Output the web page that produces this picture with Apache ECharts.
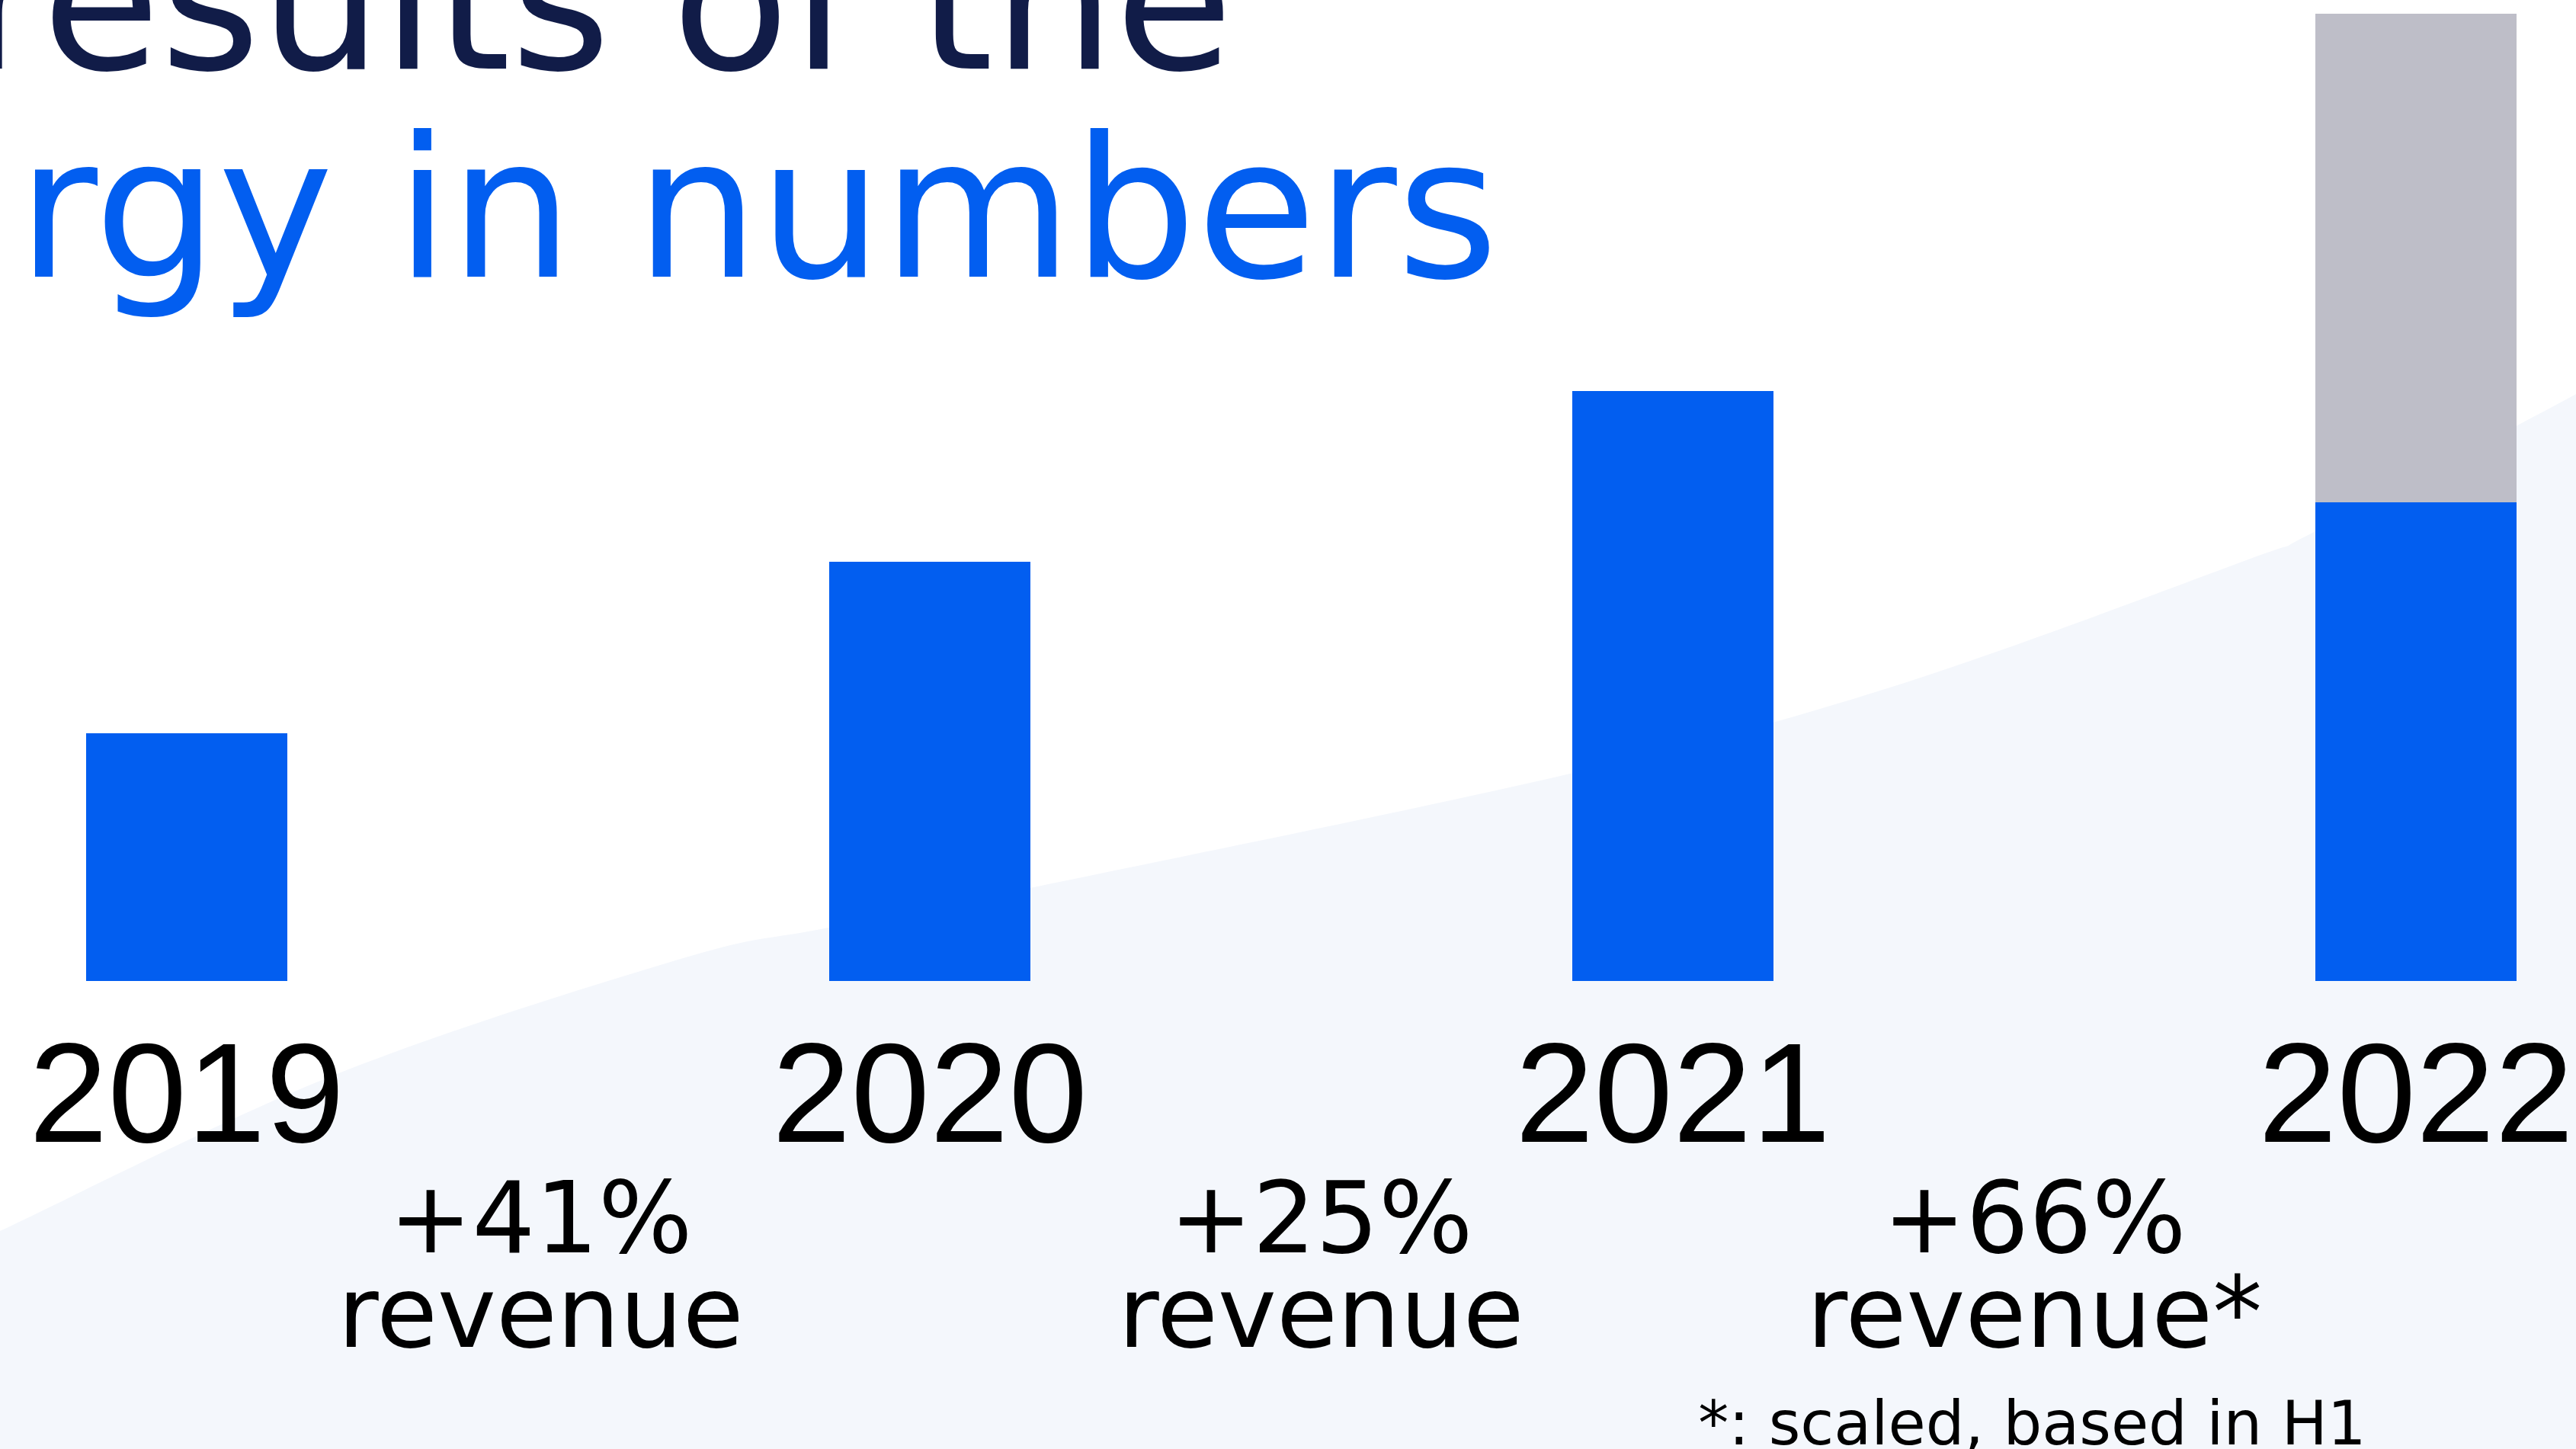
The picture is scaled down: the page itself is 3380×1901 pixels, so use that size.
<!DOCTYPE html>
<html>
<head>
<meta charset="utf-8">
<script src="https://cdn.jsdelivr.net/npm/echarts@6/dist/echarts.min.js"></script>
<style>
html,body{margin:0;padding:0;background:#ffffff;overflow:hidden;}
#chart{width:3380px;height:1901px;}
</style>
</head>
<body>
<div id="chart"></div>
<script>
// ---- data ----
const categories = ['2019', '2020', '2021', '2022'];
const actualValues = [32.5, 55.0, 77.4, 62.8];
const scaledValues = [null, null, null, 64.1];
const growthPercents = ['+41%', '+25%', '+66%'];
const growthWords = ['revenue', 'revenue', 'revenue*'];
const footnoteText = '*: scaled, based in H1';
const titleLines = ['results of the', 'rgy in numbers'];

const FONT = '"DejaVu Sans", sans-serif';
const YEAR_FONT = '"Liberation Sans", "DejaVu Sans", sans-serif';
const BLUE = '#025EF0';
const GREY = '#BEBEC8';
const NAVY = '#111C48';
const WAVE = '#F4F7FC';

const chart = echarts.init(document.getElementById('chart'), null, {renderer: 'canvas', width: 3380, height: 1901});

// decorative background wave (Catmull-Rom sampled)
const waveKnots = [[-60,1640],[0,1615],[437,1411],[893,1258],[1087,1217],[1400,1155],[2060,1015],[2486,900],[2950,734],[3038,697],[3380,517],[3440,480]];
function wavePolygon(p) {
  const out = [];
  for (let i = 0; i < p.length - 1; i++) {
    const p0 = p[Math.max(0, i - 1)], p1 = p[i], p2 = p[i + 1], p3 = p[Math.min(p.length - 1, i + 2)];
    for (let k = 0; k < 24; k++) {
      const t = k / 24, t2 = t * t, t3 = t2 * t;
      const f = (a, b, c, d) => 0.5 * ((2 * b) + (-a + c) * t + (2 * a - 5 * b + 4 * c - d) * t2 + (-a + 3 * b - 3 * c + d) * t3);
      out.push([f(p0[0], p1[0], p2[0], p3[0]), f(p0[1], p1[1], p2[1], p3[1])]);
    }
  }
  out.push(p[p.length - 1]);
  out.push([3440, 1960]);
  out.push([-60, 1960]);
  return out;
}

const option = {
  backgroundColor: '#ffffff',
  animation: false,
  grid: {left: 245, right: 210, top: 0, bottom: 614, containLabel: false, outerBoundsMode: 'none'},
  xAxis: {
    type: 'category',
    data: categories,
    boundaryGap: false,
    axisLine: {show: false},
    axisTick: {show: false},
    splitLine: {show: false},
    axisLabel: {
      interval: 0,
      margin: 67,
      fontSize: 186,
      lineHeight: 186,
      fontFamily: YEAR_FONT,
      color: '#000000'
    }
  },
  yAxis: {type: 'value', min: 0, max: 128.7, show: false, splitLine: {show: false}},
  series: [
    {
      name: 'Revenue',
      type: 'bar',
      stack: 'rev',
      data: actualValues,
      barWidth: 264,
      clip: false,
      itemStyle: {color: BLUE},
      z: 3
    },
    {
      name: 'Scaled (H1 based)',
      type: 'bar',
      stack: 'rev',
      data: scaledValues,
      barWidth: 264,
      clip: false,
      itemStyle: {color: GREY},
      z: 3
    }
  ]
};
chart.setOption(option);

// annotations positioned from the category axis (small layout nudges)
const xs = categories.map((c, i) => chart.convertToPixel({xAxisIndex: 0}, i));
const nudge = [-23, 26, -13];
const graphics = [
  {type: 'polygon', z: -100, silent: true, shape: {points: wavePolygon(waveKnots)}, style: {fill: WAVE}},
  {type: 'text', z: 10, style: {text: titleLines[0], x: 1618, y: 25, align: 'right', verticalAlign: 'middle', font: '252px ' + FONT, fill: NAVY}},
  {type: 'text', z: 10, style: {text: titleLines[1], x: 1966, y: 296, align: 'right', verticalAlign: 'middle', font: '256px ' + FONT, fill: BLUE}}
];
growthPercents.forEach((t, i) => {
  const mx = (xs[i] + xs[i + 1]) / 2 + nudge[i];
  graphics.push({type: 'text', z: 10, style: {text: t, x: mx, y: 1609, align: 'center', verticalAlign: 'middle', font: '130px ' + FONT, fill: '#000000'}});
  graphics.push({type: 'text', z: 10, style: {text: growthWords[i], x: mx, y: 1733, align: 'center', verticalAlign: 'middle', font: '130px ' + FONT, fill: '#000000'}});
});
graphics.push({type: 'text', z: 10, style: {text: footnoteText, x: (xs[2] + xs[3]) / 2 - 16, y: 1874, align: 'center', verticalAlign: 'middle', font: '80px ' + FONT, fill: '#000000'}});
chart.setOption({graphic: graphics});
</script>
</body>
</html>
